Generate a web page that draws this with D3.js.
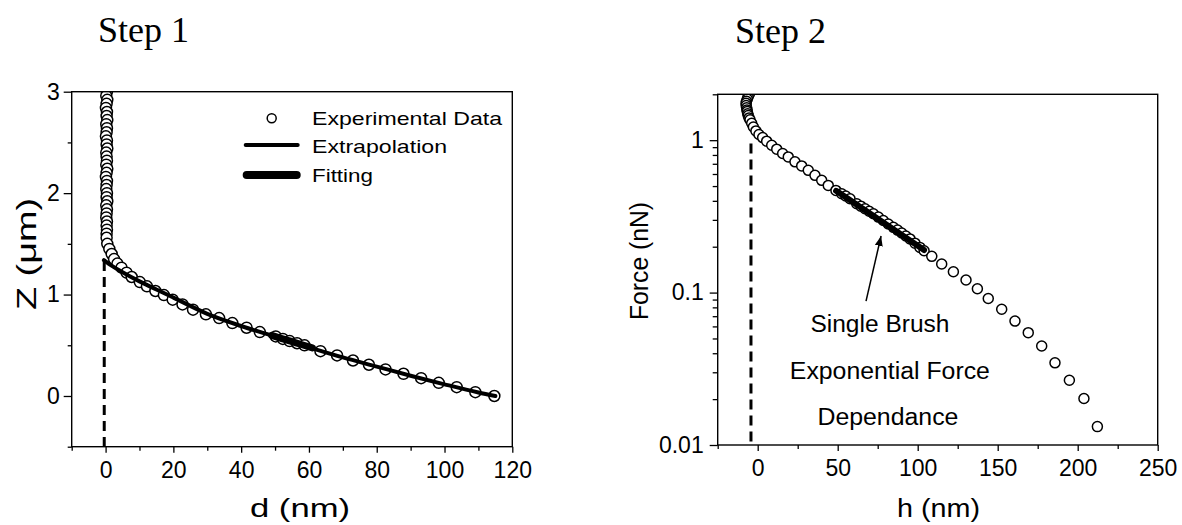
<!DOCTYPE html>
<html>
<head>
<meta charset="utf-8">
<script src="https://cdn.jsdelivr.net/npm/d3@7"></script>
<style>
body { margin: 0; background: #fff; }
svg { display: block; }
text { font-family: "Liberation Sans", Arial, sans-serif; fill: #000; }
text.title { font-family: "Liberation Serif", "Times New Roman", serif; }
</style>
</head>
<body>
<svg id="chart" width="1182" height="525"></svg>
<script>
(function() {
'use strict';

// ---- Step 1 : Z vs d ----
var zExperimental = [
    [0.4, 3.00], [0.2, 2.96], [0.5, 2.92], [0.3, 2.88], [0.1, 2.84], [0.4, 2.80],
    [0.3, 2.76], [0.5, 2.72], [0.2, 2.68], [0.4, 2.64], [0.3, 2.60], [0.1, 2.56],
    [0.4, 2.52], [0.3, 2.48], [0.5, 2.44], [0.2, 2.40], [0.3, 2.36], [0.4, 2.32],
    [0.2, 2.28], [0.5, 2.24], [0.3, 2.20], [0.1, 2.16], [0.4, 2.12], [0.3, 2.08],
    [0.2, 2.04], [0.4, 2.00], [0.3, 1.96], [0.5, 1.92], [0.2, 1.88], [0.4, 1.84],
    [0.3, 1.80], [0.2, 1.76], [0.4, 1.72], [0.3, 1.68], [0.4, 1.64], [0.3, 1.60],
    [0.3, 1.56], [0.5, 1.50], [1.1, 1.45], [1.8, 1.40], [2.5, 1.35], [3.5, 1.305],
    [4.7, 1.265], [6.2, 1.216], [7.7, 1.173], [10.1, 1.123], [12.2, 1.081],
    [14.7, 1.035], [17.2, 0.995], [19.8, 0.95], [22.7, 0.903], [25.8, 0.851],
    [29.6, 0.805], [33.5, 0.768], [37.4, 0.719], [41.6, 0.673], [45.5, 0.63],
    [50.2, 0.587], [52.3, 0.563], [54.3, 0.541], [56.5, 0.52], [58.7, 0.499],
    [63.4, 0.442], [68.3, 0.40], [73.0, 0.35], [77.7, 0.308], [82.6, 0.262],
    [87.9, 0.219], [93.1, 0.176], [98.3, 0.130], [103.6, 0.087], [109.1, 0.038],
    [114.7, 0.0]
];
var zExtrapolation = [
    [-0.5, 1.34], [2, 1.28], [5, 1.22], [10, 1.13], [15, 1.05], [20, 0.97],
    [30, 0.81], [40, 0.69], [50, 0.585], [60, 0.48], [70, 0.38], [80, 0.29],
    [90, 0.2], [100, 0.115], [110, 0.035], [115, 0.0]
];
var zFitting = [[49, 0.597], [52, 0.565], [55, 0.535], [58, 0.505], [61, 0.475]];
var zZeroLine = [[-0.4, 1.33], [-0.4, -0.5]];

var dMajor = [0, 20, 40, 60, 80, 100, 120];
var dMinor = [-10, 10, 30, 50, 70, 90, 110];
var zMajor = [0, 1, 2, 3];
var zMinor = [-0.5, 0.5, 1.5, 2.5];
var legendLabels = ['Experimental Data', 'Extrapolation', 'Fitting'];

// ---- Step 2 : Force vs h ----
var forceExperimental = [
    [-5.2, 2.0], [-6.0, 1.93], [-6.5, 1.86], [-7.0, 1.80], [-7.3, 1.75], [-7.2, 1.69],
    [-6.9, 1.63], [-6.7, 1.58], [-6.5, 1.54], [-6.2, 1.49], [-5.9, 1.45], [-5.4, 1.40],
    [-4.8, 1.36], [-3.75, 1.29], [-2.7, 1.22], [-1.1, 1.15], [0.8, 1.09], [3.1, 1.04],
    [5.6, 0.985], [8.75, 0.927], [11.9, 0.873], [15.6, 0.817], [19.1, 0.777],
    [23.3, 0.721], [27.5, 0.678], [31.6, 0.634], [35.8, 0.588], [40, 0.545],
    [44.1, 0.505], [48.9, 0.468], [52.5, 0.445], [55, 0.43], [57.7, 0.413],
    [61.9, 0.383], [64.5, 0.369], [67.1, 0.355], [69.7, 0.342], [72.3, 0.329],
    [75.4, 0.313], [78.5, 0.297], [81.6, 0.282], [84.8, 0.268], [87.4, 0.257],
    [90, 0.246], [92.6, 0.235], [95.2, 0.225], [98.3, 0.211], [101.4, 0.198],
    [104, 0.188], [108.8, 0.173], [115, 0.154], [122.3, 0.137], [130.2, 0.121],
    [137.3, 0.106], [144.1, 0.0914], [152.5, 0.0778], [160.8, 0.065], [169.1, 0.0546],
    [177.5, 0.0446], [185.8, 0.0346], [194.8, 0.0266], [203.9, 0.0202], [212.3, 0.0132]
];
var forceFitting = [[49, 0.465], [104, 0.19]];
var forceZeroLine = [[-4.2, 0.95], [-4.2, 0.01]];
var forceArrow = [[67.7, 0.0878], [77.1, 0.235]];

var hMajor = [0, 50, 100, 150, 200, 250];
var hMinor = [-25, 25, 75, 125, 175, 225];
var fMajor = [0.01, 0.1, 1];
var fMajorLabels = ['0.01', '0.1', '1'];
var fMinor = [0.02, 0.03, 0.04, 0.05, 0.06, 0.07, 0.08, 0.09,
              0.2, 0.3, 0.4, 0.5, 0.6, 0.7, 0.8, 0.9, 2];
var noteLines = [
    { text: 'Single Brush', h: 76.4, f: 0.0548, len: 139 },
    { text: 'Exponential Force', h: 82.6, f: 0.0269, len: 200 },
    { text: 'Dependance', h: 81.4, f: 0.01356, len: 141 }
];

var svg = d3.select('#chart');
var defs = svg.append('defs');

defs.append('marker')
    .attr('id', 'arrowhead')
    .attr('viewBox', '0 0 10 8')
    .attr('refX', 10).attr('refY', 4)
    .attr('markerWidth', 10).attr('markerHeight', 8)
    .attr('markerUnits', 'userSpaceOnUse')
    .attr('orient', 'auto')
    .append('path').attr('d', 'M0,0L10,4L0,8Z').attr('fill', '#000');

function makePanel(id, left, top, w, h) {
    defs.append('clipPath').attr('id', id)
        .append('rect').attr('width', w).attr('height', h);
    return svg.append('g').attr('transform', 'translate(' + left + ',' + top + ')');
}

function drawAxes(g, x, y, o) {
    var w = x.range()[1], h = y.range()[0];
    g.append('g').attr('transform', 'translate(0,' + h + ')')
        .call(d3.axisBottom(x).tickValues(o.xMinor).tickSize(4).tickFormat(''));
    g.append('g').attr('transform', 'translate(0,' + h + ')')
        .call(d3.axisBottom(x).tickValues(o.xMajor).tickSize(6).tickPadding(9));
    g.append('g')
        .call(d3.axisLeft(y).tickValues(o.yMinor).tickSize(o.yMinorSize).tickFormat(''));
    g.append('g')
        .call(d3.axisLeft(y).tickValues(o.yMajor).tickSize(8).tickPadding(o.yPad)
            .tickFormat(o.yFormat));
    g.selectAll('.domain').remove();
    g.selectAll('.tick line').attr('stroke', '#000').attr('stroke-width', 1.3);
    g.selectAll('.tick text').attr('font-size', 23);
    g.append('rect').attr('width', w).attr('height', h)
        .attr('fill', 'none').attr('stroke', '#000').attr('stroke-width', 1.4);
}

function stretchedText(sel, str, len) {
    return sel.append('text').text(str)
        .attr('textLength', len).attr('lengthAdjust', 'spacingAndGlyphs');
}

// ---------- Step 1 ----------
var w1 = 440.6, h1 = 355;
var g1 = makePanel('clip1', 71.7, 91.7, w1, h1);
var x1 = d3.scaleLinear().domain([-10, 120]).range([0, w1]);
var y1 = d3.scaleLinear().domain([-0.5, 3]).range([h1, 0]);
var line1 = d3.line().x(function (d) { return x1(d[0]); }).y(function (d) { return y1(d[1]); });

var plot1 = g1.append('g').attr('clip-path', 'url(#clip1)');
plot1.append('path').datum(zZeroLine).attr('d', line1)
    .attr('fill', 'none').attr('stroke', '#000').attr('stroke-width', 3)
    .attr('stroke-dasharray', '10,6');
plot1.selectAll('circle').data(zExperimental).enter().append('circle')
    .attr('cx', function (d) { return x1(d[0]); })
    .attr('cy', function (d) { return y1(d[1]); })
    .attr('r', 5.5)
    .attr('fill', '#fff').attr('stroke', '#000').attr('stroke-width', 1.5);
plot1.append('path').datum(zExtrapolation).attr('d', line1.curve(d3.curveMonotoneX))
    .attr('fill', 'none').attr('stroke', '#000').attr('stroke-width', 4)
    .attr('stroke-linecap', 'round');
plot1.append('path').datum(zFitting).attr('d', line1)
    .attr('fill', 'none').attr('stroke', '#000').attr('stroke-width', 7)
    .attr('stroke-linecap', 'round');

drawAxes(g1, x1, y1, {
    xMajor: dMajor, xMinor: dMinor, yMajor: zMajor, yMinor: zMinor,
    yMinorSize: 4, yPad: 4, yFormat: d3.format('d')
});

// legend
var leg = g1.append('g');
leg.append('circle').attr('cx', 200).attr('cy', 26.6).attr('r', 4.5)
    .attr('fill', '#fff').attr('stroke', '#000').attr('stroke-width', 1.5);
leg.append('line').attr('x1', 174).attr('x2', 226).attr('y1', 53.3).attr('y2', 53.3)
    .attr('stroke', '#000').attr('stroke-width', 4).attr('stroke-linecap', 'round');
leg.append('line').attr('x1', 175).attr('x2', 225).attr('y1', 83.3).attr('y2', 83.3)
    .attr('stroke', '#000').attr('stroke-width', 8).attr('stroke-linecap', 'round');
var legLen = [190, 135, 61];
var legBase = [33.3, 61.6, 90];
legendLabels.forEach(function (s, i) {
    stretchedText(leg, s, legLen[i])
        .attr('x', 240.3).attr('y', legBase[i]).attr('font-size', 19);
});

// ---------- Step 2 ----------
var w2 = 440, h2 = 350.7;
var g2 = makePanel('clip2', 717.7, 94.3, w2, h2);
var x2 = d3.scaleLinear().domain([-25, 250]).range([0, w2]);
var y2 = d3.scaleLog().domain([0.01, 2]).range([h2, 0]);
var line2 = d3.line().x(function (d) { return x2(d[0]); }).y(function (d) { return y2(d[1]); });

var plot2 = g2.append('g').attr('clip-path', 'url(#clip2)');
plot2.append('path').datum(forceZeroLine).attr('d', line2)
    .attr('fill', 'none').attr('stroke', '#000').attr('stroke-width', 3)
    .attr('stroke-dasharray', '10,6');
plot2.selectAll('circle').data(forceExperimental).enter().append('circle')
    .attr('cx', function (d) { return x2(d[0]); })
    .attr('cy', function (d) { return y2(d[1]); })
    .attr('r', 5)
    .attr('fill', '#fff').attr('stroke', '#000').attr('stroke-width', 1.5);
plot2.append('path').datum(forceFitting).attr('d', line2)
    .attr('fill', 'none').attr('stroke', '#000').attr('stroke-width', 6)
    .attr('stroke-linecap', 'round');
plot2.append('path').datum(forceArrow).attr('d', line2)
    .attr('fill', 'none').attr('stroke', '#000').attr('stroke-width', 1.5)
    .attr('marker-end', 'url(#arrowhead)');

noteLines.forEach(function (n) {
    stretchedText(g2, n.text, n.len)
        .attr('x', x2(n.h) - n.len / 2).attr('y', y2(n.f)).attr('font-size', 23);
});

drawAxes(g2, x2, y2, {
    xMajor: hMajor, xMinor: hMinor, yMajor: fMajor, yMinor: fMinor,
    yMinorSize: 5, yPad: 6,
    yFormat: function (d) { return fMajorLabels[fMajor.indexOf(d)]; }
});

// ---------- titles ----------
svg.append('text').attr('class', 'title').text('Step 1')
    .attr('x', 98).attr('y', 42).attr('font-size', 36);
svg.append('text').attr('class', 'title').text('Step 2')
    .attr('x', 735).attr('y', 43).attr('font-size', 36);

stretchedText(svg, 'd (nm)', 100).attr('x', 250).attr('y', 517).attr('font-size', 25);
stretchedText(svg, 'h (nm)', 83).attr('x', 897).attr('y', 517).attr('font-size', 25);
stretchedText(svg, 'Z (\u03bcm)', 112).attr('font-size', 27)
    .attr('transform', 'translate(36,310) rotate(-90)');
stretchedText(svg, 'Force (nN)', 118).attr('font-size', 25)
    .attr('transform', 'translate(648,320) rotate(-90)');

})();
</script>
</body>
</html>
